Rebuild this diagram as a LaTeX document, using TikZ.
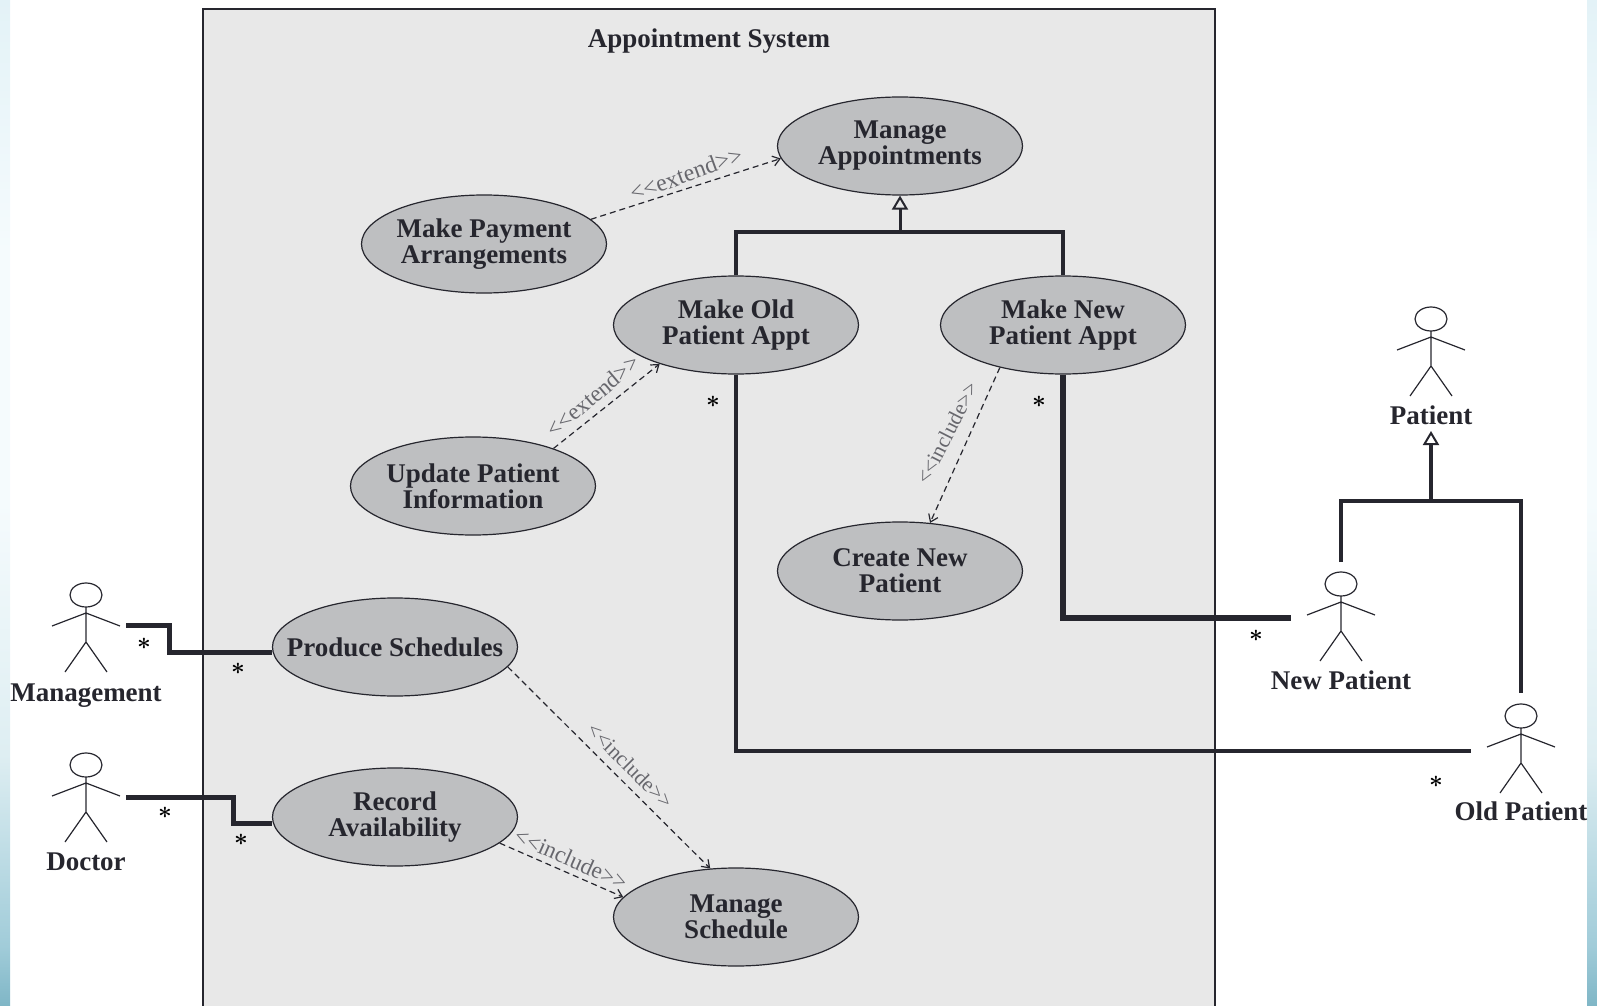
\documentclass[tikz,border=0pt]{standalone}
\usepackage{fontspec}
\setmainfont{Liberation Serif}
\usepackage{tikz}
\usetikzlibrary{arrows.meta, positioning, shapes.geometric}
\definecolor{sysgray}{HTML}{E8E8E8}
\definecolor{casegray}{HTML}{BEBFC1}
\definecolor{inkdark}{HTML}{26262E}
\definecolor{bandteal}{HTML}{7FB6C6}
\definecolor{banddeep}{HTML}{A1CCD9}
\definecolor{bandmid}{HTML}{DEEEF2}
\definecolor{bandlight}{HTML}{F5FBFD}
\definecolor{bandtop}{HTML}{E3F2F7}
\pgfdeclareverticalshading{edgeband}{100bp}{
    color(0bp)=(bandteal);
    color(25bp)=(bandteal);
    color(28bp)=(banddeep);
    color(37.5bp)=(bandmid);
    color(50bp)=(bandlight);
    color(62.5bp)=(bandlight);
    color(75bp)=(bandtop);
    color(100bp)=(bandtop)
}
\tikzset{
    usecase/.style={draw=inkdark, line width=0.6pt, fill=casegray, ellipse, minimum width=122.5pt, minimum height=49pt, inner sep=0pt, inner xsep=-4pt, align=center, text=inkdark, font=\fontsize{13.5}{13}\selectfont\bfseries},
    actorname/.style={text=inkdark, inner sep=0pt, font=\fontsize{13.5}{13}\selectfont\bfseries},
    stereo/.style={text=inkdark!70, inner sep=0pt, font=\fontsize{#1}{12}\selectfont},
    stereo/.default=11.6,
    multi/.style={text=black, inner sep=0pt, font=\large\boldmath},
    depend/.style={draw=inkdark, densely dashed, line width=0.6pt, -{Straight Barb[length=3.5pt,width=5pt]}},
    assoc/.style={draw=inkdark, line width=#1},
    assoc/.default=2pt,
    gentip/.style={draw=inkdark, line width=1.5pt, -{Triangle[open,length=7pt,width=8pt,line width=1pt]}},
    actor/.pic={
        \draw[inkdark, line width=0.6pt] (0,0) ellipse (8pt and 6pt);
        \draw[inkdark, line width=0.6pt] (0,12) -- (0,47) (-34,31) -- (0,18) -- (34,31) (-21,77) -- (0,47) -- (21,77);
    }
}
\begin{document}
\begin{tikzpicture}[x=0.5pt, y=-0.5pt]
    \useasboundingbox (0,0) rectangle (1597,1006);
    % page edges
    \shade[shading=edgeband] (0,0) rectangle (10,1006);
    \shade[shading=edgeband] (1587,0) rectangle (1597,1006);
    % system boundary
    \fill[sysgray] (203,9) rectangle (1215,1006);
    \draw[inkdark, line width=0.7pt] (203,1006) -- (203,9) -- (1215,9) -- (1215,1006);
    \node[actorname] (title) at (709,41) {Appointment System};

    % use cases
    \node[usecase] (manage) at (900,146) {Manage\\Appointments};
    \node[usecase] (payment) at (484,244) {Make Payment\\Arrangements};
    \node[usecase] (oldappt) at (736,325) {Make Old\\Patient Appt};
    \node[usecase] (newappt) at (1063,325) {Make New\\Patient Appt};
    \node[usecase] (update) at (473,486) {Update Patient\\Information};
    \node[usecase] (create) at (900,571) {Create New\\Patient};
    \node[usecase, inner xsep=-12pt] (produce) at (395,647) {Produce Schedules};
    \node[usecase] (record) at (395,817) {Record\\Availability};
    \node[usecase] (schedule) at (736,917) {Manage\\Schedule};

    % actors
    \pic at (86,595) {actor};
    \pic at (86,765) {actor};
    \pic at (1431,319) {actor};
    \pic at (1341,584) {actor};
    \pic at (1521,716) {actor};
    \node[actorname] (management) at (86,696) {Management};
    \node[actorname] (doctor) at (86,862) {Doctor};
    \node[actorname] (patient) at (1431,415) {Patient};
    \node[actorname] (newpatient) at (1341,680) {New Patient};
    \node[actorname] (oldpatient) at (1521,811) {Old Patient};

    % free ends next to the actors
    \coordinate (managementarm) at (126,625);
    \coordinate (doctorarm) at (126,797);
    \coordinate (newarm) at (1291,618);
    \coordinate (oldarm) at (1471,751);
    \coordinate (newhead) at (1341,562);
    \coordinate (oldhead) at (1521,693);
    \coordinate (apptjoin) at (900,232);
    \coordinate (patientjoin) at (1431,501);

    % associations
    \draw[assoc=2.5pt] (managementarm) -- (169,625) -- (169,652) -- (produce.west |- 0,652);
    \draw[assoc=2.5pt] (doctorarm) -- (233,797) -- (233,823) -- (record.west |- 0,823);
    \draw[assoc=3pt] (newappt.south) |- (newarm);
    \draw[assoc] (oldappt.south) |- (oldarm);

    % generalizations
    \draw[assoc=1.6pt] (oldappt.north) |- (apptjoin) -| (newappt.north);
    \draw[gentip] (apptjoin) -- (manage.south);
    \draw[assoc] (newhead) |- (patientjoin) -| (oldhead);
    \draw[gentip, line width=2.4pt] (patientjoin) -- (1431,431);

    % extend and include
    \draw[depend] (payment.13) -- (manage.186);
    \draw[depend] (update.25) -- (oldappt.207);
    \draw[depend] (newappt.214) -- (create.58);
    \draw[depend] (produce.350) -- (schedule.118);
    \draw[depend] (record.346) -- (schedule.170);
    \node[stereo=12, rotate=20] (extendone) at (686,174) {{<}{<}extend{>}{>}};
    \node[stereo, rotate=40] (extendtwo) at (593,396) {{<}{<}extend{>}{>}};
    \node[stereo=10.7, rotate=63] (includeone) at (947,433) {{<}{<}include{>}{>}};
    \node[stereo=10.7, rotate=-45] (includetwo) at (630,766) {{<}{<}include{>}{>}};
    \node[stereo, rotate=-24] (includethree) at (571,859) {{<}{<}include{>}{>}};

    % multiplicities
    \node[multi] (m1) at (144,644) {$\ast$};
    \node[multi] (m2) at (238,669) {$\ast$};
    \node[multi] (m3) at (165,813) {$\ast$};
    \node[multi] (m4) at (241,840) {$\ast$};
    \node[multi] (m5) at (713,402) {$\ast$};
    \node[multi] (m6) at (1039,402) {$\ast$};
    \node[multi] (m7) at (1256,636) {$\ast$};
    \node[multi] (m8) at (1436,782) {$\ast$};
\end{tikzpicture}
\end{document}
